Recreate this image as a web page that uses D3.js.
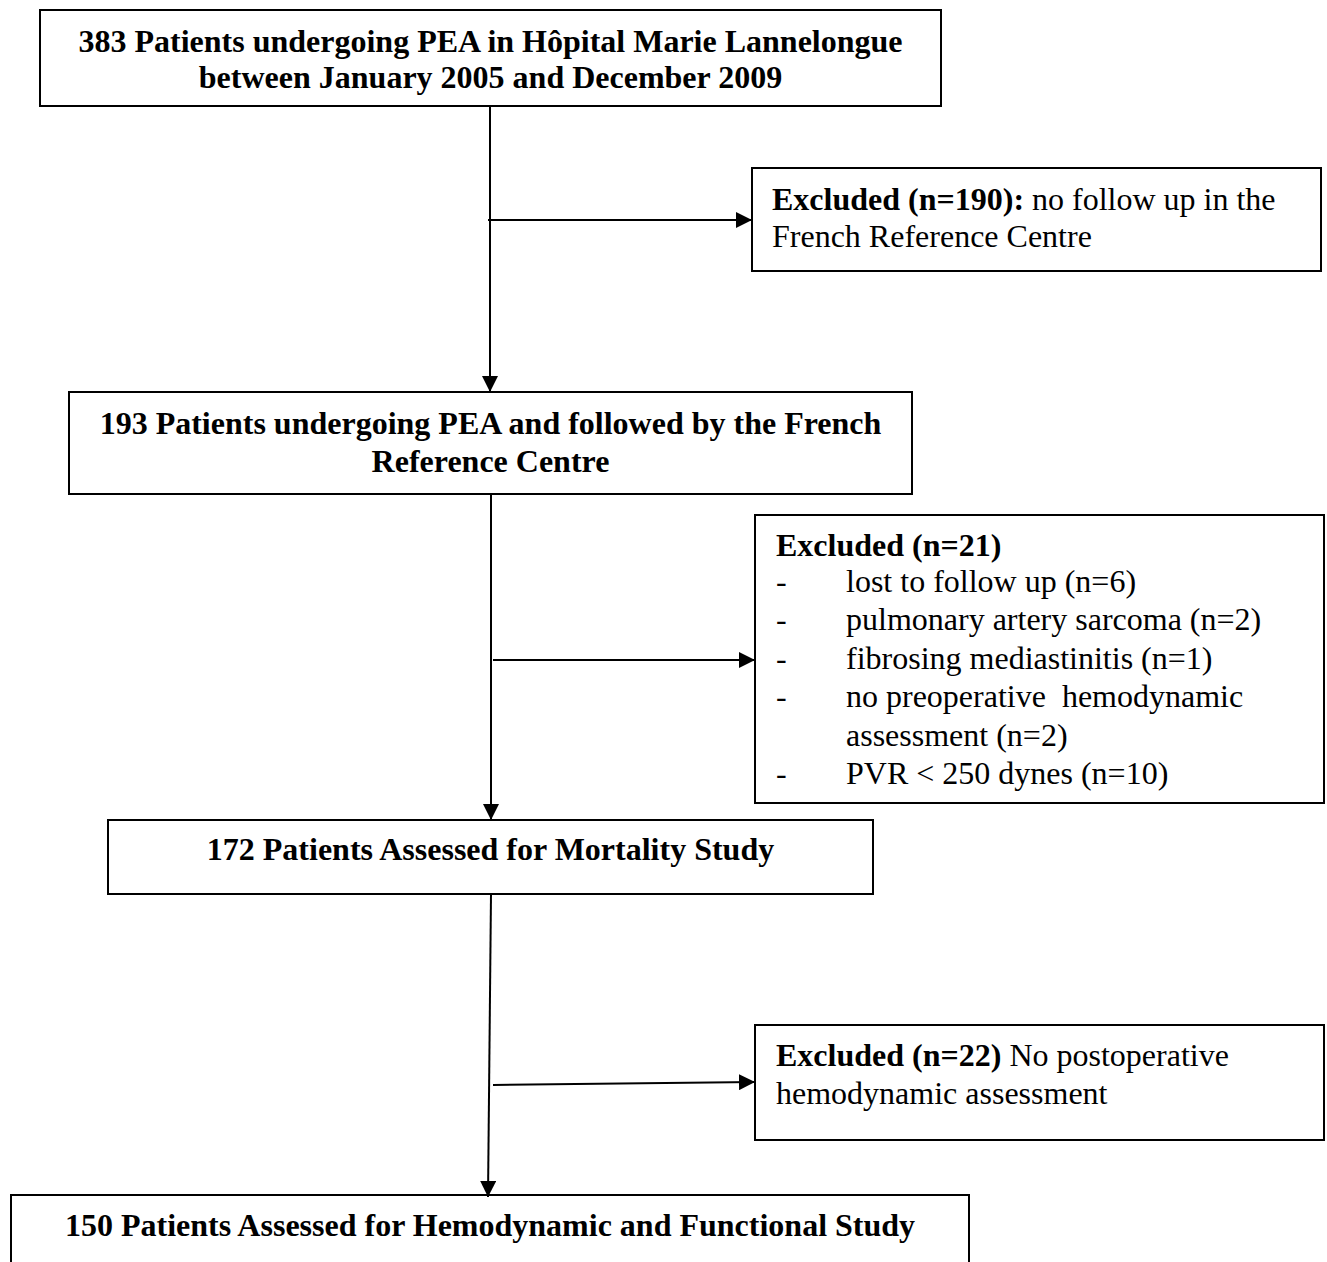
<!DOCTYPE html>
<html>
<head>
<meta charset="utf-8">
<script src="https://cdn.jsdelivr.net/npm/d3@7"></script>
<style>
  body { margin: 0; background: #fff; }
  text { font-family: "Liberation Serif", "Times New Roman", serif; fill: #000; }
</style>
</head>
<body>
<div id="chart"></div>
<script>
// patient counts at each stage of the flow
var stageCounts = [383, 193, 172, 150];
var stageLabels = [
  ["383 Patients undergoing PEA in Hôpital Marie Lannelongue", "between January 2005 and December 2009"],
  ["193 Patients undergoing PEA and followed by the French", "Reference Centre"],
  ["172 Patients Assessed for Mortality Study"],
  ["150 Patients Assessed for Hemodynamic and Functional Study"]
];

// exclusions between stages
var excludedCounts = [190, 21, 22];
var excludedHeads = ["Excluded (n=190):", "Excluded (n=21)", "Excluded (n=22)"];
var excludedText = [
  [" no follow up in the", "French Reference Centre"],
  [],
  [" No postoperative", "hemodynamic assessment"]
];
var excludedItems = [
  [],
  ["lost to follow up (n=6)", "pulmonary artery sarcoma (n=2)", "fibrosing mediastinitis (n=1)",
   "no preoperative  hemodynamic", "assessment (n=2)", "PVR < 250 dynes (n=10)"],
  []
];
var itemDash = [[], [true, true, true, true, false, true], []];

var width = 1327, height = 1262;

var svg = d3.select("#chart").append("svg")
    .attr("width", width)
    .attr("height", height);

svg.append("defs").append("marker")
    .attr("id", "arrow")
    .attr("viewBox", "0 0 10 10")
    .attr("refX", 10).attr("refY", 5)
    .attr("markerWidth", 8).attr("markerHeight", 8)
    .attr("markerUnits", "strokeWidth")
    .attr("orient", "auto")
  .append("path")
    .attr("d", "M0,0L10,5L0,10Z")
    .attr("fill", "#000");

// layout of the boxes (pixels)
var stageBox = [
  {x: 40, y: 10, w: 901, h: 96, base: [52, 88]},
  {x: 69, y: 392, w: 843, h: 102, base: [434, 472]},
  {x: 108, y: 820, w: 765, h: 74, base: [860]},
  {x: 11, y: 1195, w: 958, h: 90, base: [1236]}
];
var exclBox = [
  {x: 752, y: 168, w: 569, h: 103, tx: 772, base: [210, 247]},
  {x: 755, y: 515, w: 569, h: 288, tx: 776, base: [556]},
  {x: 755, y: 1025, w: 569, h: 115, tx: 776, base: [1066, 1104]}
];
var itemBase = [592, 630, 669, 707, 746, 784];

// connectors
var downLinks = [
  {x1: 490, y1: 106, x2: 490, y2: 392},
  {x1: 491, y1: 494, x2: 491, y2: 820},
  {x1: 491, y1: 894, x2: 488, y2: 1197}
];
var sideLinks = [
  {x1: 488, y1: 220, x2: 752, y2: 220},
  {x1: 493, y1: 660, x2: 755, y2: 660},
  {x1: 493, y1: 1085, x2: 755, y2: 1082}
];

var fontSize = 32;

// main stage boxes
var stages = svg.selectAll("g.stage")
    .data(stageCounts)
    .enter().append("g")
    .attr("class", "stage");

stages.append("rect")
    .attr("x", function(d, i) { return stageBox[i].x; })
    .attr("y", function(d, i) { return stageBox[i].y; })
    .attr("width", function(d, i) { return stageBox[i].w; })
    .attr("height", function(d, i) { return stageBox[i].h; })
    .attr("fill", "#fff")
    .attr("stroke", "#000")
    .attr("stroke-width", 2);

stages.each(function(d, i) {
  var g = d3.select(this);
  var b = stageBox[i];
  stageLabels[i].forEach(function(line, j) {
    g.append("text")
      .attr("x", b.x + b.w / 2)
      .attr("y", b.base[j])
      .attr("text-anchor", "middle")
      .attr("font-size", fontSize)
      .attr("font-weight", "bold")
      .text(line);
  });
});

// excluded boxes
var excl = svg.selectAll("g.excl")
    .data(excludedCounts)
    .enter().append("g")
    .attr("class", "excl");

excl.append("rect")
    .attr("x", function(d, i) { return exclBox[i].x; })
    .attr("y", function(d, i) { return exclBox[i].y; })
    .attr("width", function(d, i) { return exclBox[i].w; })
    .attr("height", function(d, i) { return exclBox[i].h; })
    .attr("fill", "#fff")
    .attr("stroke", "#000")
    .attr("stroke-width", 2);

excl.each(function(d, i) {
  var g = d3.select(this);
  var b = exclBox[i];
  var t = g.append("text")
    .attr("x", b.tx)
    .attr("y", b.base[0])
    .attr("font-size", fontSize)
    .style("white-space", "pre");
  t.append("tspan").attr("font-weight", "bold").text(excludedHeads[i]);
  if (excludedText[i].length) {
    t.append("tspan").text(excludedText[i][0]);
    excludedText[i].slice(1).forEach(function(line, j) {
      g.append("text")
        .attr("x", b.tx)
        .attr("y", b.base[j + 1])
        .attr("font-size", fontSize)
        .text(line);
    });
  }
  excludedItems[i].forEach(function(item, j) {
    if (itemDash[i][j]) {
      g.append("text")
        .attr("x", b.tx)
        .attr("y", itemBase[j])
        .attr("font-size", fontSize)
        .text("-");
    }
    g.append("text")
      .attr("x", b.tx + 70)
      .attr("y", itemBase[j])
      .attr("font-size", fontSize)
      .style("white-space", "pre")
      .text(item);
  });
});

// arrows
svg.selectAll("line.down")
    .data(downLinks)
    .enter().append("line")
    .attr("class", "down")
    .attr("x1", function(d) { return d.x1; })
    .attr("y1", function(d) { return d.y1; })
    .attr("x2", function(d) { return d.x2; })
    .attr("y2", function(d) { return d.y2; })
    .attr("stroke", "#000")
    .attr("stroke-width", 2)
    .attr("marker-end", "url(#arrow)");

svg.selectAll("line.side")
    .data(sideLinks)
    .enter().append("line")
    .attr("class", "side")
    .attr("x1", function(d) { return d.x1; })
    .attr("y1", function(d) { return d.y1; })
    .attr("x2", function(d) { return d.x2; })
    .attr("y2", function(d) { return d.y2; })
    .attr("stroke", "#000")
    .attr("stroke-width", 2)
    .attr("marker-end", "url(#arrow)");
</script>
</body>
</html>
